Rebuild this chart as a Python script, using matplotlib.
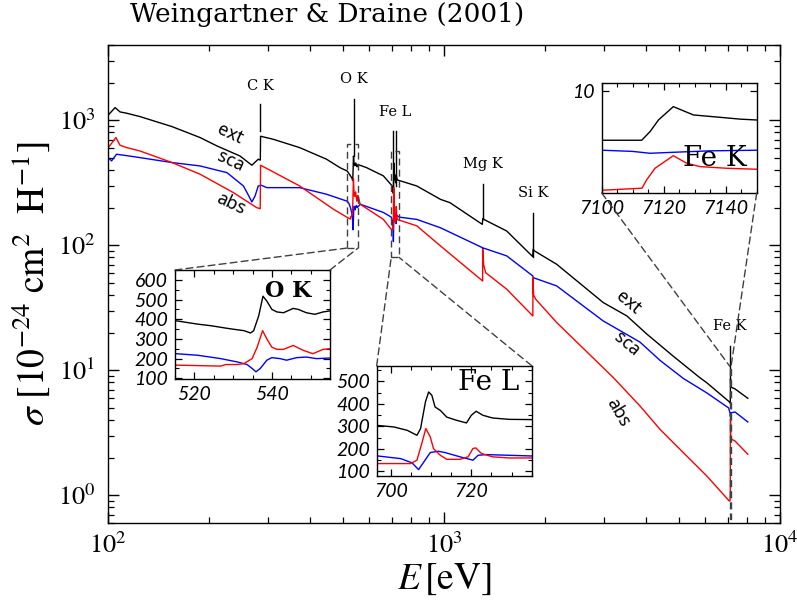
import matplotlib
matplotlib.use('Agg')
import matplotlib.pyplot as plt
from matplotlib.patches import Rectangle, ConnectionPatch
from matplotlib.ticker import LogLocator, NullFormatter, MultipleLocator, NullLocator

plt.rcParams['mathtext.fontset'] = 'stix'
plt.rcParams['font.family'] = ['STIXGeneral', 'DejaVu Serif']

# ---------------- data ----------------
E_ext = [100, 105, 108.6, 113.7, 124.5, 155, 188, 211, 247, 268, 280, 284, 284.5, 310, 372, 447, 490,
         515.3, 520.9, 524.3, 528.1, 529.8, 532.8, 534.5, 535.3, 536.6, 537.7, 538.7, 540, 541.3, 543,
         545.5, 546.8, 548.9, 551.1, 553.2, 554.9,
         588, 660,
         696.7, 700.8, 704.1, 706.5, 707.4, 708.6, 709.4, 710.2, 711, 712.3, 713.9, 716.3, 718.8, 720,
         721.2, 722.9, 725.3, 729.4, 734.7,
         830, 976, 1042, 1300, 1305, 1320, 1537, 1836, 1842, 1860, 2164, 2978, 3502, 4022, 4805, 5771,
         6050, 7063,
         7100, 7112.9, 7115.6, 7118.3, 7123.1, 7129.6, 7138, 7144.6, 7150, 7344, 8020]
ext = [1096, 1263, 1166, 1138, 1070, 890, 727, 623, 518, 437, 488, 480, 745, 705, 604, 488, 418,
       392, 375, 367, 355, 350, 342, 330, 342, 417, 517, 492, 450, 437, 433,
       455, 450, 433, 425, 437, 442,
       418, 359,
       304, 297, 282, 260, 290, 408, 453, 438, 386, 371, 341, 327, 315, 349,
       367, 349, 337, 331, 330,
       298, 233, 219, 147, 164, 160, 130, 81.2, 92.9, 90, 70.5, 34.8, 27.2, 19.4, 13.0, 8.73,
       7.96, 5.6,
       5.47, 5.47, 6.26, 7.32, 8.54, 7.78, 7.57, 7.4, 7.32, 7.1, 5.97]

E_sca = [100, 102.5, 106, 119, 155, 188, 226, 253, 262, 268, 274, 280, 286, 297, 372, 447,
         515.3, 520.9, 526.8, 531.1, 533.6, 534.9, 535.9, 537, 538.7, 540, 542.1, 543.8, 546.4, 548.9,
         551.5, 554.9,
         563, 660,
         696.7, 702.5, 705.3, 706.9, 708.2, 709.8, 711.8, 713.5, 717.2, 719.6, 720.4, 721.7, 723.7, 734.7,
         830, 976, 1300, 1304, 1310, 1537, 1838, 1845, 2164, 2978, 3831, 4394, 5156, 6050, 7030,
         7100, 7110, 7115.6, 7124, 7134.8, 7150, 7344, 8020]
sca = [503, 473, 535, 512, 459, 431, 381, 298, 250, 222, 248, 298, 302, 289, 289, 256,
       225, 217, 200, 183, 170, 150, 133, 150, 192, 205, 200, 192, 205, 208,
       200, 203,
       213, 183,
       168, 156, 137, 107, 141, 183, 189, 183, 164, 153, 149, 171, 174, 168,
       161, 138, 95.8, 93, 95, 82.2, 56.8, 55, 47.3, 24.8, 16.8, 12.0, 8.6, 6.6, 5.0,
       4.56, 4.45, 4.28, 4.38, 4.5, 4.56, 4.64, 3.86]

E_abs = [100, 105.6, 108.6, 113.7, 119, 124.5, 155, 188, 236, 277, 283.8, 284.5, 372, 469,
         515.3, 526.8, 528.1, 531.1, 532.8, 534.9, 536.2, 537.6, 538.7, 540, 541.3, 543, 545.5, 548.1,
         550.6, 553.2, 554.9,
         563, 660,
         696.7, 704.9, 706.5, 707.8, 708.7, 709.8, 710.6, 712.3, 713.9, 717.2, 719.2, 720.4, 721.1,
         722.5, 725.3, 729.4, 734.7,
         830, 976, 1303, 1304, 1312, 1330, 1537, 1838, 1840, 1848, 1875, 2164, 3192, 3831, 4394,
         5040, 6050, 7063,
         7100, 7113, 7114.5, 7117.2, 7123.1, 7127.4, 7131.7, 7140.3, 7150, 7344, 8020]
abs_ = [600, 727, 631, 604, 586, 568, 459, 370, 264, 200, 196, 437, 298, 194,
        167, 162, 170, 170, 175, 200, 258, 342, 300, 258, 247, 247, 267, 242,
        225, 247, 250,
        213, 161,
        134, 134, 149, 230, 290, 253, 201, 171, 153, 153, 164, 201, 204,
        179, 164, 159, 159,
        143, 98.8, 51.8, 92.9, 70, 60.4, 44.5, 27.2, 55.1, 40, 37.0, 24.1, 8.73, 5.18, 3.37,
        2.33, 1.43, 0.90,
        0.90, 1.09, 1.85, 2.91, 4.06, 3.37, 3.06, 2.91, 2.82, 2.72, 2.13]

# edge markers
edge_names = ['C K', 'O K', 'Fe L', 'Mg K', 'Si K', 'Fe K']
edge_label_E = [284, 538, 715, 1303, 1840, 7112]
edge_label_y = [1880, 2156, 1165, 445, 264, 22.6]
edge_line_E = [284, 538, 707, 720, 1303, 1840, 7112]
edge_line_top = [1343, 1472, 821, 821, 308, 180, 15.7]
edge_line_bot = [821, 520, 298, 298, 161, 80, 8.5]

# inset windows: (xmin, xmax, ymin, ymax)
win_OK = (515, 555, 95, 650)
win_FeL = (696.5, 735, 80, 570)
win_FeK = (7100, 7150, 0.65, 10.7)

# ---------------- figure ----------------
fig = plt.figure(figsize=(7.97, 6.02), dpi=100)
ax = fig.add_axes([108/797, 79/602, 672/797, 478/602])

def draw_curves(a):
    a.plot(E_ext, ext, color='black', lw=1.0)
    a.plot(E_sca, sca, color='#0000ff', lw=1.0)
    a.plot(E_abs, abs_, color='#ff0000', lw=1.0)

draw_curves(ax)
ax.set_xscale('log')
ax.set_yscale('log')
ax.set_xlim(100, 1e4)
ax.set_ylim(0.6, 4000)
ax.xaxis.set_major_locator(LogLocator(base=10, numticks=10))
ax.xaxis.set_minor_locator(LogLocator(base=10, subs=range(2, 10), numticks=20))
ax.yaxis.set_major_locator(LogLocator(base=10, numticks=10))
ax.yaxis.set_minor_locator(LogLocator(base=10, subs=range(2, 10), numticks=20))
ax.xaxis.set_minor_formatter(NullFormatter())
ax.yaxis.set_minor_formatter(NullFormatter())
ax.tick_params(which='both', direction='in', top=True, right=True, labelsize=19)
ax.tick_params(which='major', length=8, width=1)
ax.tick_params(which='minor', length=4.5, width=0.9)
ax.tick_params(axis='x', pad=7)
ax.tick_params(axis='y', pad=9)
for s in ax.spines.values():
    s.set_linewidth(1.0)

ax.set_xlabel(r'$E\,[\mathrm{eV}]$', fontsize=27, labelpad=2)
ax.set_ylabel(r'$\sigma\ [10^{-24}\ \mathrm{cm}^{2}\ \ \mathrm{H}^{-1}]$', fontsize=27, labelpad=4)

fig.text(130/797, 1 - 22/602, 'Weingartner & Draine (2001)', family='DejaVu Serif',
         fontsize=19, ha='left', va='baseline')

# edge marker lines and labels
for e, t, b in zip(edge_line_E, edge_line_top, edge_line_bot):
    ax.plot([e, e], [b, t], color='black', lw=1.0)
for n, e, y in zip(edge_names, edge_label_E, edge_label_y):
    ax.text(e, y, n, family='DejaVu Serif', fontsize=10.5, ha='center', va='center')

# curve labels
lab_kw = dict(family='Noto Sans', fontsize=13, ha='center', va='center', rotation_mode='anchor')
ax.text(231, 773, 'ext', rotation=-25, **lab_kw)
ax.text(231, 473, 'sca', rotation=-25, **lab_kw)
ax.text(232, 213, 'abs', rotation=-25, **lab_kw)
ax.text(3536, 34.8, 'ext', rotation=-40, **lab_kw)
ax.text(3497, 16.1, 'sca', rotation=-40, **lab_kw)
ax.text(3300, 4.6, 'abs', rotation=-60, **lab_kw)

# ---------------- insets ----------------
dash = (0, (5, 3))
gcol = '#404040'

def make_inset(rect, win, xt, yt, xminor, yminor, label, lab_pos, lab_kw2, connect):
    ia = fig.add_axes(rect)
    draw_curves(ia)
    ia.set_xlim(win[0], win[1])
    ia.set_ylim(win[2], win[3])
    ia.set_xticks(xt)
    ia.set_xticklabels([str(v) for v in xt], fontfamily='Lato', fontstyle='italic', fontsize=14)
    ia.set_yticks(yt)
    ia.set_yticklabels([str(v) for v in yt], fontfamily='Lato', fontstyle='italic', fontsize=14)
    if xminor:
        ia.xaxis.set_minor_locator(MultipleLocator(xminor))
    if yminor:
        ia.yaxis.set_minor_locator(MultipleLocator(yminor))
    else:
        ia.yaxis.set_minor_locator(NullLocator())
    ia.tick_params(which='both', direction='in', top=True, right=True, pad=5)
    ia.tick_params(which='major', length=5, width=0.9)
    ia.tick_params(which='minor', length=3, width=0.8)
    for s in ia.spines.values():
        s.set_linewidth(1.0)
    ia.text(lab_pos[0], lab_pos[1], label, transform=ia.transAxes, ha='center', va='center',
            **lab_kw2)
    ax.add_patch(Rectangle((win[0], win[2]), win[1] - win[0], win[3] - win[2], fill=False,
                           ec=gcol, lw=1.0, ls=dash, zorder=5))
    for (ca, cb) in connect:
        con = ConnectionPatch(xyA=ca, coordsA=ia.transAxes, xyB=cb, coordsB=ax.transData,
                              color=gcol, lw=1.0, ls=dash, zorder=1)
        fig.add_artist(con)
    return ia

make_inset([175/797, (602-379.3)/602, 155/797, 109.3/602], win_OK, [520, 540],
           [100, 200, 300, 400, 500, 600], 5, 50, 'O K', (0.73, 0.81),
           dict(family='DejaVu Serif', fontsize=16, fontweight='bold'),
           [((0, 1), (win_OK[0], win_OK[2])), ((1, 1), (win_OK[1], win_OK[2]))])

make_inset([376.7/797, (602-475.7)/602, 155/797, 110/602], win_FeL, [700, 720],
           [100, 200, 300, 400, 500], 5, 50, 'Fe L', (0.725, 0.845),
           dict(family='DejaVu Serif', fontsize=20),
           [((0, 1), (win_FeL[0], win_FeL[2])), ((1, 1), (win_FeL[1], win_FeL[2]))])

make_inset([601.7/797, (602-193)/602, 155/797, 110/602], win_FeK, [7100, 7120, 7140],
           [10], 5, None, 'Fe K', (0.73, 0.31),
           dict(family='DejaVu Serif', fontsize=20),
           [((0, 0), (win_FeK[0], win_FeK[3])), ((1, 0), (win_FeK[1], win_FeK[3]))])

fig.savefig('out.png', dpi=100)
